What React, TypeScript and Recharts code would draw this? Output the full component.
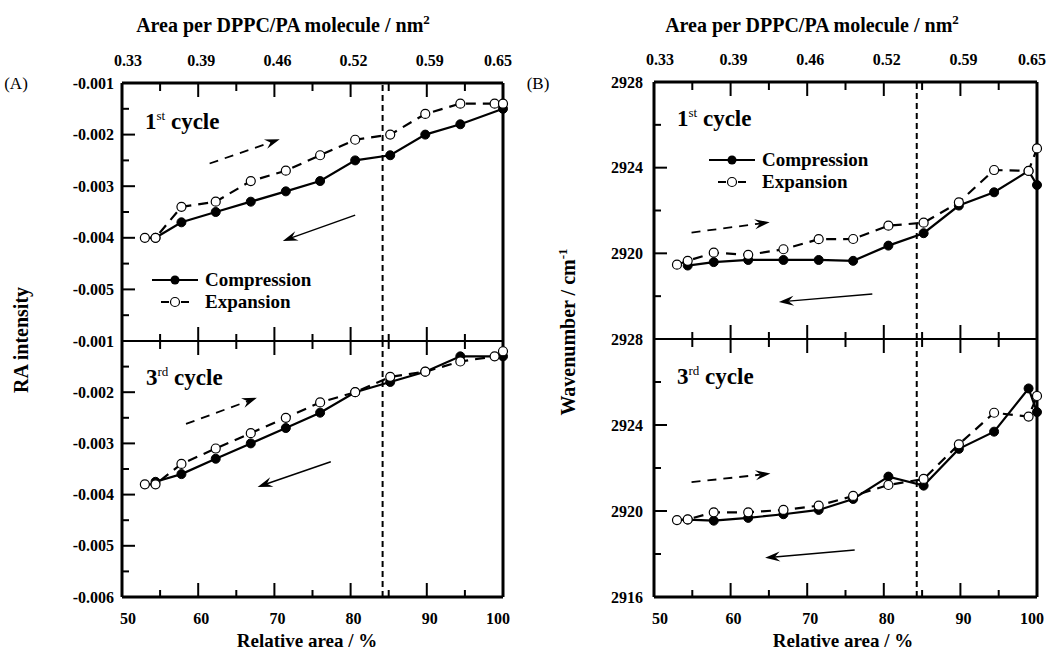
import React from 'react';
import { LineChart, Line, XAxis, YAxis, ReferenceLine } from 'recharts';

const FONT = '"Liberation Serif", "Times New Roman", Times, serif';
const W = 1050;
const H = 653;

// relative area (%) at which spectra were taken
const relArea = [53.0, 54.4, 57.8, 62.3, 66.9, 71.5, 76.0, 80.6, 85.2, 89.8, 94.4, 98.9, 100];

// (A) RA intensity
const ra1Compression = [null, -0.004, -0.0037, -0.0035, -0.0033, -0.0031, -0.0029, -0.0025, -0.0024, -0.002, -0.0018, null, -0.0015];
const ra1Expansion = [-0.004, -0.004, -0.0034, -0.0033, -0.0029, -0.0027, -0.0024, -0.0021, -0.002, -0.0016, -0.0014, -0.0014, -0.0014];
const ra3Compression = [null, -0.00375, -0.0036, -0.0033, -0.003, -0.0027, -0.0024, -0.002, -0.0018, -0.0016, -0.0013, null, -0.0013];
const ra3Expansion = [-0.0038, -0.0038, -0.0034, -0.0031, -0.0028, -0.0025, -0.0022, -0.002, -0.0017, -0.0016, -0.0014, -0.0013, -0.0012];

// (B) wavenumber / cm-1
const wn1Compression = [null, 2919.43, 2919.59, 2919.69, 2919.69, 2919.69, 2919.65, 2920.36, 2920.94, 2922.23, 2922.85, 2923.85, 2923.19];
const wn1Expansion = [2919.47, 2919.65, 2920.03, 2919.93, 2920.19, 2920.66, 2920.67, 2921.29, 2921.43, 2922.38, 2923.89, 2923.85, 2924.9];
const wn3Compression = [null, 2919.6, 2919.55, 2919.68, 2919.85, 2920.05, 2920.56, 2921.6, 2921.18, 2922.89, 2923.69, 2925.7, 2924.6];
const wn3Expansion = [2919.58, 2919.61, 2919.94, 2919.94, 2920.05, 2920.25, 2920.7, 2921.21, 2921.49, 2923.1, 2924.57, 2924.39, 2925.35];

// axes
const xTicks = [50, 55, 60, 65, 70, 75, 80, 85, 90, 95, 100];
const xLabels = [50, 60, 70, 80, 90, 100];
const areaLabels = ['0.33', '0.39', '0.46', '0.52', '0.59', '0.65'];

const raTicks = [-0.006, -0.0055, -0.005, -0.0045, -0.004, -0.0035, -0.003, -0.0025, -0.002, -0.0015, -0.001];
const raMajor = [-0.006, -0.005, -0.004, -0.003, -0.002, -0.001];
const raLabelsUpper = [-0.005, -0.004, -0.003, -0.002, -0.001];
const raLabelsLower = [-0.006, -0.005, -0.004, -0.003, -0.002, -0.001];

const wnTicks = [2916, 2918, 2920, 2922, 2924, 2926, 2928];
const wnMajor = [2916, 2920, 2924, 2928];
const wnLabelsUpper = [2920, 2924, 2928];
const wnLabelsLower = [2916, 2920, 2924, 2928];

// direction arrows (data coordinates)
const arrowsRA1 = [
  { x1: 61.5, y1: -0.00256, x2: 70.7, y2: -0.00209, dashed: true },
  { x1: 80.6, y1: -0.00356, x2: 71.1, y2: -0.00406, dashed: false },
];
const arrowsRA3 = [
  { x1: 58.4, y1: -0.00262, x2: 67.7, y2: -0.00211, dashed: true },
  { x1: 77.4, y1: -0.00336, x2: 67.8, y2: -0.00385, dashed: false },
];
const arrowsWN1 = [
  { x1: 54.9, y1: 2920.97, x2: 65.1, y2: 2921.45, dashed: true },
  { x1: 78.5, y1: 2918.1, x2: 66.3, y2: 2917.73, dashed: false },
];
const arrowsWN3 = [
  { x1: 54.9, y1: 2921.34, x2: 65.2, y2: 2921.74, dashed: true },
  { x1: 76.2, y1: 2918.19, x2: 64.5, y2: 2917.82, dashed: false },
];

type Arrow = { x1: number; y1: number; x2: number; y2: number; dashed: boolean };

const rows = (comp: (number | null)[], exp: (number | null)[]) =>
  relArea.map((x, i) => ({ x, comp: comp[i], exp: exp[i] }));

const near = (v: number, list: number[]) => list.some((a) => Math.abs(a - v) < 1e-7);

const tickText = { fontFamily: FONT, fontWeight: 'bold' as const, fontSize: 16, fill: '#000' };

// small nudges so the end labels sit inside the frame like the original
const labelShift = (v: number) => (v === 50 ? 6 : v === 100 ? -5 : 3);

const arrowShape = (dashed: boolean) => (p: any) => {
  const { x1, y1, x2, y2 } = p;
  const a = Math.atan2(y2 - y1, x2 - x1);
  const c = Math.cos(a);
  const s = Math.sin(a);
  const len = 15;
  const half = 5;
  const bx = x2 - len * c;
  const by = y2 - len * s;
  const nx = x2 - len * 0.65 * c;
  const ny = y2 - len * 0.65 * s;
  const pts = [
    [x2, y2],
    [bx - half * s, by + half * c],
    [nx, ny],
    [bx + half * s, by - half * c],
  ]
    .map((q) => q.join(','))
    .join(' ');
  return (
    <g>
      <line x1={x1} y1={y1} x2={nx} y2={ny} stroke="#000" strokeWidth={dashed ? 1.8 : 1.5} strokeDasharray={dashed ? '9 7' : undefined} />
      <polygon points={pts} fill="#000" />
    </g>
  );
};

type SubProps = {
  left: number;
  right: number;
  top: number;
  bottom: number;
  upper: boolean;
  domain: [number, number];
  yTicks: number[];
  yMajor: number[];
  yLabels: number[];
  fmt: (v: number) => string;
  labelGap: number;
  rightLen: number;
  data: { x: number; comp: number | null; exp: number | null }[];
  arrows: Arrow[];
  vline: number;
};

const SubPlot: React.FC<SubProps> = (s) => {
  const topTick = (p: any) => {
    const v = p.payload.value;
    const major = v % 10 === 0;
    const len = major ? 14 : 8;
    const idx = xLabels.indexOf(v);
    return (
      <g>
        {v !== 50 && v !== 100 && <line x1={p.x} y1={p.y} x2={p.x} y2={p.y + len} stroke="#000" strokeWidth={2} />}
        {s.upper && idx >= 0 && (
          <text x={p.x + labelShift(v)} y={p.y - 23} dy="0.35em" textAnchor="middle" {...tickText}>
            {areaLabels[idx]}
          </text>
        )}
      </g>
    );
  };
  const bottomTick = (p: any) => {
    const v = p.payload.value;
    const major = v % 10 === 0;
    const len = major ? 14 : 7;
    return (
      <g>
        {v !== 50 && v !== 100 && <line x1={p.x} y1={p.y} x2={p.x} y2={p.y - len} stroke="#000" strokeWidth={2} />}
        {!s.upper && major && (
          <text x={p.x + labelShift(v)} y={p.y + 21} dy="0.35em" textAnchor="middle" {...tickText}>
            {v}
          </text>
        )}
      </g>
    );
  };
  const leftTick = (p: any) => {
    const v = p.payload.value;
    const major = near(v, s.yMajor);
    return (
      <g>
        <line x1={p.x} y1={p.y} x2={p.x + (major ? 13 : 7)} y2={p.y} stroke="#000" strokeWidth={2} />
        {near(v, s.yLabels) && (
          <text x={p.x - s.labelGap} y={p.y} dy="0.35em" textAnchor="end" {...tickText}>
            {s.fmt(v)}
          </text>
        )}
      </g>
    );
  };
  const rightTick = (p: any) => {
    const v = p.payload.value;
    if (v === s.domain[0] || v === s.domain[1]) return <g />;
    return <line x1={p.x} y1={p.y} x2={p.x - s.rightLen} y2={p.y} stroke="#000" strokeWidth={2} />;
  };

  const frame = { stroke: '#000', strokeWidth: 3 };
  const divider = { stroke: '#000', strokeWidth: 2 };

  return (
    <div style={{ position: 'absolute', left: 0, top: 0 }}>
      <LineChart
        width={W}
        height={H}
        data={s.data}
        margin={{ top: s.top - 1, bottom: H - s.bottom - 1, left: s.left - 1, right: W - s.right - 1 }}
      >
        <XAxis
          xAxisId="b"
          type="number"
          dataKey="x"
          orientation="bottom"
          domain={[50, 100]}
          ticks={xTicks}
          interval={0}
          height={1}
          tickSize={0}
          tickMargin={0}
          tickLine={false}
          axisLine={s.upper ? divider : frame}
          tick={bottomTick}
        />
        <XAxis
          xAxisId="t"
          type="number"
          dataKey="x"
          orientation="top"
          domain={[50, 100]}
          ticks={xTicks}
          interval={0}
          height={1}
          tickSize={0}
          tickMargin={0}
          tickLine={false}
          axisLine={s.upper ? frame : divider}
          tick={topTick}
        />
        <YAxis
          yAxisId="l"
          type="number"
          domain={s.domain}
          ticks={s.yTicks}
          interval={0}
          width={1}
          tickSize={0}
          tickMargin={0}
          tickLine={false}
          axisLine={frame}
          tick={leftTick}
        />
        <YAxis
          yAxisId="r"
          orientation="right"
          type="number"
          domain={s.domain}
          ticks={s.yTicks}
          interval={0}
          width={1}
          tickSize={0}
          tickMargin={0}
          tickLine={false}
          axisLine={frame}
          tick={rightTick}
        />
        <ReferenceLine xAxisId="b" yAxisId="l" x={s.vline} stroke="#000" strokeWidth={2} strokeDasharray="6 4" />
        {s.arrows.map((a, i) => (
          <ReferenceLine
            key={i}
            xAxisId="b"
            yAxisId="l"
            segment={[
              { x: a.x1, y: a.y1 },
              { x: a.x2, y: a.y2 },
            ]}
            stroke="#000"
            shape={arrowShape(a.dashed)}
          />
        ))}
        <Line
          xAxisId="b"
          yAxisId="l"
          dataKey="comp"
          stroke="#000"
          strokeWidth={2.2}
          connectNulls
          dot={{ r: 4.5, fill: '#000', stroke: '#000', strokeWidth: 1 }}
          activeDot={false}
          isAnimationActive={false}
        />
        <Line
          xAxisId="b"
          yAxisId="l"
          dataKey="exp"
          stroke="#000"
          strokeWidth={2.2}
          strokeDasharray="10 7"
          connectNulls
          dot={{ r: 4.5, fill: '#fff', stroke: '#000', strokeWidth: 1.2, strokeDasharray: 'none' }}
          activeDot={false}
          isAnimationActive={false}
        />
      </LineChart>
    </div>
  );
};

const LegendKey: React.FC<{ left: number; top: number }> = ({ left, top }) => (
  <div style={{ position: 'absolute', left, top, fontFamily: FONT, fontWeight: 'bold', fontSize: 19, lineHeight: '22px' }}>
    <div style={{ display: 'flex', alignItems: 'center', height: 22 }}>
      <svg width={47} height={22}>
        <line x1={0} y1={11} x2={46} y2={11} stroke="#000" strokeWidth={2.2} />
        <circle cx={23} cy={11} r={4.5} fill="#000" />
      </svg>
      <span style={{ marginLeft: 6 }}>Compression</span>
    </div>
    <div style={{ display: 'flex', alignItems: 'center', height: 22 }}>
      <svg width={47} height={22}>
        <line x1={9} y1={11} x2={17} y2={11} stroke="#000" strokeWidth={2} />
        <line x1={29} y1={11} x2={37} y2={11} stroke="#000" strokeWidth={2} />
        <circle cx={23} cy={11} r={4.5} fill="#fff" stroke="#000" strokeWidth={1.2} />
      </svg>
      <span style={{ marginLeft: 6 }}>Expansion</span>
    </div>
  </div>
);

const Cycle: React.FC<{ left: number; y: number; n: string; sup: string }> = ({ left, y, n, sup }) => (
  <div
    style={{
      position: 'absolute',
      left,
      top: y,
      transform: 'translateY(-50%)',
      fontFamily: FONT,
      fontWeight: 'bold',
      fontSize: 23,
      lineHeight: 1,
      whiteSpace: 'nowrap',
    }}
  >
    {n}
    <sup style={{ fontSize: 13, verticalAlign: 9, fontWeight: 'normal' }}>{sup}</sup> cycle
  </div>
);

const Label: React.FC<{ x: number; y: number; size: number; bold?: boolean; rotate?: boolean; children: React.ReactNode }> = ({
  x,
  y,
  size,
  bold = true,
  rotate,
  children,
}) => (
  <div
    style={{
      position: 'absolute',
      left: x,
      top: y,
      transform: `translate(-50%, -50%)${rotate ? ' rotate(-90deg)' : ''}`,
      fontFamily: FONT,
      fontWeight: bold ? 'bold' : 'normal',
      fontSize: size,
      lineHeight: 1,
      whiteSpace: 'nowrap',
    }}
  >
    {children}
  </div>
);

const fmtRA = (v: number) => v.toFixed(3);
const fmtWN = (v: number) => String(v);

export default function App() {
  const A = { left: 122, right: 503, top: 83, mid: 341, bottom: 597 };
  const B = { left: 654, right: 1037, top: 82, mid: 339, bottom: 597 };
  return (
    <div style={{ position: 'absolute', left: 0, top: 0, width: W, height: H, background: '#fff', overflow: 'hidden' }}>
      <SubPlot left={A.left} right={A.right} top={A.top} bottom={A.mid} upper domain={[-0.006, -0.001]} yTicks={raTicks} yMajor={raMajor}
        yLabels={raLabelsUpper} fmt={fmtRA} labelGap={8} rightLen={12} data={rows(ra1Compression, ra1Expansion)} arrows={arrowsRA1} vline={84.2} />
      <SubPlot left={A.left} right={A.right} top={A.mid} bottom={A.bottom} upper={false} domain={[-0.006, -0.001]} yTicks={raTicks} yMajor={raMajor}
        yLabels={raLabelsLower} fmt={fmtRA} labelGap={8} rightLen={12} data={rows(ra3Compression, ra3Expansion)} arrows={arrowsRA3} vline={84.2} />
      <SubPlot left={B.left} right={B.right} top={B.top} bottom={B.mid} upper domain={[2916, 2928]} yTicks={wnTicks} yMajor={wnMajor}
        yLabels={wnLabelsUpper} fmt={fmtWN} labelGap={11} rightLen={9} data={rows(wn1Compression, wn1Expansion)} arrows={arrowsWN1} vline={84.3} />
      <SubPlot left={B.left} right={B.right} top={B.mid} bottom={B.bottom} upper={false} domain={[2916, 2928]} yTicks={wnTicks} yMajor={wnMajor}
        yLabels={wnLabelsLower} fmt={fmtWN} labelGap={11} rightLen={9} data={rows(wn3Compression, wn3Expansion)} arrows={arrowsWN3} vline={84.3} />

      <Label x={283} y={24} size={20}>
        Area per DPPC/PA molecule / nm<sup style={{ fontSize: 13, verticalAlign: 8 }}>2</sup>
      </Label>
      <Label x={812} y={24} size={20}>
        Area per DPPC/PA molecule / nm<sup style={{ fontSize: 13, verticalAlign: 8 }}>2</sup>
      </Label>
      <Label x={307} y={640} size={19}>Relative area / %</Label>
      <Label x={843} y={640} size={19}>Relative area / %</Label>
      <Label x={21} y={340} size={20} rotate>RA intensity</Label>
      <Label x={567} y={332} size={20} rotate>
        Wavenumber / cm<sup style={{ fontSize: 13, verticalAlign: 8 }}>-1</sup>
      </Label>
      <Label x={16} y={83} size={17} bold={false}>(A)</Label>
      <Label x={538} y={83} size={17} bold={false}>(B)</Label>

      <Cycle left={145} y={121} n="1" sup="st" />
      <Cycle left={146} y={377} n="3" sup="rd" />
      <Cycle left={677} y={118} n="1" sup="st" />
      <Cycle left={677} y={376} n="3" sup="rd" />

      <LegendKey left={152} top={269} />
      <LegendKey left={709} top={149} />
    </div>
  );
}
